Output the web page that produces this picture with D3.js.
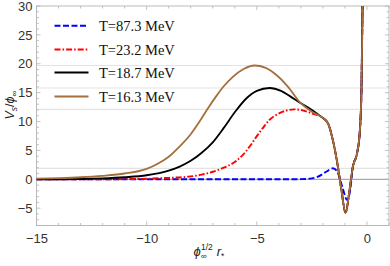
<!DOCTYPE html>
<html><head><meta charset="utf-8">
<script src="https://cdn.jsdelivr.net/npm/d3@7"></script>
<style>
body{margin:0;background:#fff;}
svg{display:block;}
</style></head>
<body>
<svg id="chart" width="390" height="266"></svg>
<script>
// ---- data ----
const seriesNames = ["T=87.3 MeV", "T=23.2 MeV", "T=18.7 MeV", "T=16.3 MeV"];
const sharedTail = [[-2.07,10.8],[-1.77,9.7],[-1.55,6.8],[-1.32,2.2],[-1.16,-1.85],[-0.97,-5.8],[-0.79,-1.85],[-0.64,2.2],[-0.45,4.5],[-0.33,8.0],[-0.25,15.5],[-0.2,30],[-0.17,34]];
const blueTail = [[-0.64,2.2],[-0.45,4.5],[-0.33,8.0],[-0.25,15.5],[-0.2,30],[-0.17,34]];
const seriesT87 = [[-15,0],[-12,0],[-9,0],[-6,0],[-4,0],[-3,0.02],[-2.5,0.15],[-2.25,0.4],[-1.85,1.3],[-1.55,1.9],[-1.36,1.4],[-1.12,-1.3],[-0.9,-3.6],[-0.76,-1.85]].concat(blueTail);
const seriesT23 = [[-15,0],[-12,0],[-11,0.03],[-10,0.1],[-9,0.25],[-8,0.5],[-7.5,0.8],[-7,1.3],[-6.5,2.0],[-6,3.0],[-5.64,4.2],[-5.3,5.8],[-5.03,7.3],[-4.7,9.0],[-4.42,10.3],[-4.1,11.2],[-3.82,11.7],[-3.3,12.1],[-3.0,12.0],[-2.5,11.4]].concat(sharedTail);
const seriesT18 = [[-15,0],[-13,0.05],[-12,0.15],[-11,0.35],[-10,0.7],[-9,1.5],[-8.5,2.2],[-8,3.2],[-7.5,4.6],[-7,6.4],[-6.5,8.9],[-6,11.6],[-5.5,13.9],[-5,15.3],[-4.42,15.8],[-3.9,15.3],[-3.5,14.4],[-3.06,13.3],[-2.5,12.0]].concat(sharedTail);
const seriesT16 = [[-15,0.1],[-14,0.2],[-13,0.35],[-12,0.6],[-11,1.0],[-10,1.8],[-9.5,2.7],[-9,3.9],[-8.5,5.7],[-8,7.8],[-7.6,10.0],[-7.2,12.4],[-6.84,14.4],[-6.5,16.1],[-6.1,17.7],[-5.6,19.1],[-5.1,19.7],[-4.6,19.3],[-4.12,18.1],[-3.6,16.1],[-3.06,13.4],[-2.5,11.7]].concat(sharedTail);
const gridValues = [19.7, 15.8, 12.1, 1.9];
const xTicks = [-15, -10, -5, 0];
const yTicks = [-5, 0, 5, 10, 15, 20, 25, 30];

// ---- layout ----
const svg = d3.select("#chart");
const L = 36.5, R = 389, T = 6, B = 225.5;
const x = d3.scaleLinear().domain([-15, 1]).range([L, R]);
const y = d3.scaleLinear().domain([-8, 30]).range([B, T]);

const series = [
  {name: seriesNames[0], data: seriesT87, color: "#0000ff", dash: "6,2.5", w: 1.9},
  {name: seriesNames[1], data: seriesT23, color: "#ff0000", dash: "6,2,1.6,2", w: 1.9},
  {name: seriesNames[2], data: seriesT18, color: "#000000", dash: null, w: 1.8},
  {name: seriesNames[3], data: seriesT16, color: "#a36f3c", dash: null, w: 1.8}
];

svg.append("defs").append("clipPath").attr("id","clip")
  .append("rect").attr("x", L).attr("y", T).attr("width", R-L).attr("height", B-T);

// grid lines
svg.append("g").selectAll("line").data(gridValues).join("line")
  .attr("x1", L).attr("x2", R).attr("y1", d=>y(d)).attr("y2", d=>y(d))
  .attr("stroke", "#e3e3e3").attr("stroke-width", 1.2);
// zero axis
svg.append("line").attr("x1", L).attr("x2", R).attr("y1", y(0)).attr("y2", y(0))
  .attr("stroke", "#aaaaaa").attr("stroke-width", 1.2);

// frame axes
const frameColor = "#b3b3b3";
function tickLine(g, x1, y1, x2, y2){
  g.append("line").attr("x1",x1).attr("y1",y1).attr("x2",x2).attr("y2",y2)
   .attr("stroke", frameColor).attr("stroke-width", 0.8);
}
const fg = svg.append("g");
fg.append("rect").attr("x", L).attr("y", T).attr("width", R-L).attr("height", B-T)
  .attr("fill","none").attr("stroke", frameColor).attr("stroke-width", 0.9);
const xMinor = d3.range(-15, 1.01, 1);
xMinor.forEach(v => {
  const major = xTicks.includes(v);
  const len = major ? 4 : 2.5;
  tickLine(fg, x(v), B, x(v), B - len);
  tickLine(fg, x(v), T, x(v), T + len);
});
const yMinor = d3.range(-8, 30.01, 1);
yMinor.forEach(v => {
  const major = yTicks.includes(v);
  const len = major ? 4 : 2.5;
  tickLine(fg, L, y(v), L + len, y(v));
  tickLine(fg, R, y(v), R - len, y(v));
});

// tick labels via d3 axes (lines hidden)
const xAxis = svg.append("g").attr("transform", `translate(0,${B})`)
  .call(d3.axisBottom(x).tickValues(xTicks).tickSize(0).tickPadding(8).tickFormat(d => d < 0 ? "\u2212" + Math.abs(d) : d));
const yAxis = svg.append("g").attr("transform", `translate(${L},0)`)
  .call(d3.axisLeft(y).tickValues(yTicks).tickSize(0).tickPadding(4).tickFormat(d => d < 0 ? "\u2212" + Math.abs(d) : d));
[xAxis, yAxis].forEach(a => {
  a.select(".domain").remove();
  a.selectAll("text").attr("font-family", "Liberation Sans, Arial, sans-serif")
    .attr("font-size", 13).attr("fill", "#333");
});

// curves
const line = d3.line().x(d => x(d[0])).y(d => y(d[1])).curve(d3.curveMonotoneX);
const cg = svg.append("g").attr("clip-path", "url(#clip)");
series.forEach(s => {
  cg.append("path").attr("d", line(s.data)).attr("fill", "none")
    .attr("stroke", s.color).attr("stroke-width", s.w)
    .attr("stroke-dasharray", s.dash).attr("stroke-linejoin","round");
});

// legend
const lg = svg.append("g");
const legY = [25.7, 49.5, 72.5, 96.5];
series.forEach((s, i) => {
  lg.append("line").attr("x1", 54.5).attr("x2", 88.5).attr("y1", legY[i]).attr("y2", legY[i])
    .attr("stroke", s.color).attr("stroke-width", s.w).attr("stroke-dasharray", s.dash);
  lg.append("text").attr("x", 99).attr("y", legY[i] + 5).text(s.name)
    .attr("font-family", "Liberation Serif, Times New Roman, serif").attr("font-size", 14.5).attr("fill", "#111");
});

// axis labels
const xl = svg.append("text").attr("x", 209).attr("y", 256).attr("text-anchor", "middle")
  .attr("font-family", "Liberation Sans, Arial, sans-serif").attr("font-size", 13).attr("fill", "#222");
xl.append("tspan").attr("font-style", "italic").text("\u03d5");
xl.append("tspan").attr("font-size", 8.5).attr("dy", 3).text("\u221e");
xl.append("tspan").attr("font-size", 8.5).attr("dy", -9.5).attr("dx", -6).text("1/2");
xl.append("tspan").attr("dy", 6.5).attr("dx", 4).attr("font-style", "italic").text("r");
xl.append("tspan").attr("font-size", 8.5).attr("dy", 3).text("*");

const yl = svg.append("text").attr("transform", "translate(14,105) rotate(-90)").attr("text-anchor", "middle")
  .attr("font-family", "Liberation Sans, Arial, sans-serif").attr("font-size", 12.5).attr("fill", "#222");
yl.append("tspan").attr("font-style", "italic").text("V");
yl.append("tspan").attr("font-size", 8.5).attr("font-style", "italic").attr("dy", 3).text("s");
yl.append("tspan").attr("dy", -3).text("/");
yl.append("tspan").attr("font-style", "italic").text("\u03d5");
yl.append("tspan").attr("font-size", 8.5).attr("dy", 3).text("\u221e");
</script>
</body></html>
